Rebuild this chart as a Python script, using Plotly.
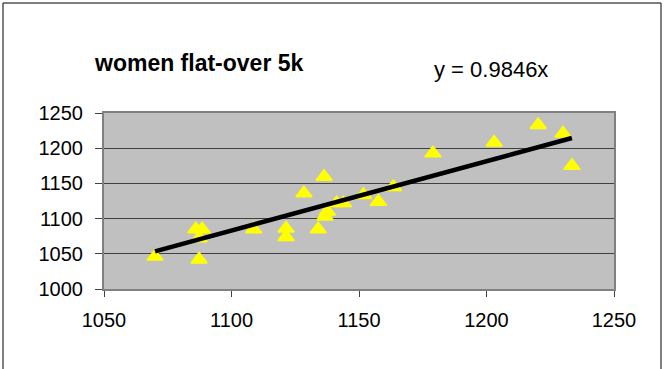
import plotly.graph_objects as go

# flat times (x) vs over-5k times (y)
flat_times = [1070, 1086, 1088.5, 1087.3, 1087.3, 1108.7, 1121.4, 1121.4,
              1128.4, 1134, 1136.3, 1136.7, 1137.6, 1141.2, 1143.9, 1151.7,
              1157.6, 1163.5, 1179, 1203, 1220.3, 1230, 1233.5]
over5k_times = [1046, 1085, 1085, 1072, 1042, 1085, 1086, 1074,
                1136, 1085, 1159.5, 1103, 1110, 1122, 1122, 1133.5,
                1124, 1145, 1193, 1208, 1233, 1221, 1175]
slope = 0.9846
x_ticks = [1050, 1100, 1150, 1200, 1250]
y_ticks = [1000, 1050, 1100, 1150, 1200, 1250]

trend_x = [min(flat_times), max(flat_times)]
trend_y = [slope * v for v in trend_x]

W, H = 665, 369
L, R, T, B = 104, 51, 113, 80
pw, ph = W - L - R, H - T - B


def px(x):
    return (x - L) / pw


def py(y):
    return (H - B - y) / ph


fig = go.Figure()
fig.add_trace(go.Scatter(
    x=flat_times, y=over5k_times, mode="markers",
    marker=dict(symbol="triangle-up", size=14, color="#FFFF00",
                line=dict(width=1.5, color="#FFFF00")),
    hoverinfo="x+y",
))
fig.add_trace(go.Scatter(
    x=trend_x, y=trend_y, mode="lines",
    line=dict(color="black", width=4.5),
))

axis_font = dict(family="Arial, Liberation Sans", size=20, color="black")
fig.update_xaxes(
    range=[1050, 1250], tickvals=x_ticks, showgrid=False, zeroline=False,
    showline=True, linecolor="#808080", linewidth=2, mirror=True,
    ticks="outside", ticklen=6, tickcolor="#404040", tickfont=axis_font,
    ticklabelstandoff=6,
)
fig.update_yaxes(
    range=[1000, 1250], tickvals=y_ticks, showgrid=True, gridcolor="#404040",
    gridwidth=1, zeroline=False,
    showline=True, linecolor="#808080", linewidth=2, mirror=True,
    ticks="outside", ticklen=7, tickcolor="#404040", tickfont=axis_font,
    ticklabelstandoff=8,
)

fig.update_layout(
    width=W, height=H,
    margin=dict(l=L, r=R, t=T, b=B),
    plot_bgcolor="#C0C0C0", paper_bgcolor="white",
    showlegend=False,
    annotations=[
        dict(text="<b>women flat-over 5k</b>", xref="paper", yref="paper",
             x=px(92), y=py(63), xanchor="left", yanchor="middle",
             showarrow=False,
             font=dict(family="Arial, Liberation Sans", size=23, color="black")),
        dict(text="y = 0.9846x", xref="paper", yref="paper",
             x=px(432), y=py(70), xanchor="left", yanchor="middle",
             showarrow=False,
             font=dict(family="Arial, Liberation Sans", size=22, color="black")),
    ],
    shapes=[
        dict(type="rect", xref="paper", yref="paper",
             x0=px(3), x1=px(661), y0=py(420), y1=py(3),
             line=dict(color="black", width=1), layer="below"),
    ],
)

fig.write_html("out.html", config={"displayModeBar": False},
               post_script="document.body.style.margin='0';")
